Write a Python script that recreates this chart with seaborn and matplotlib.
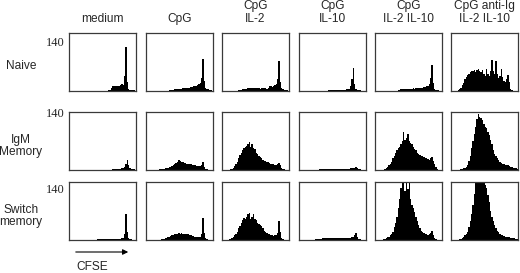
import numpy as np
import pandas as pd
import matplotlib
matplotlib.use("Agg")
import matplotlib.pyplot as plt
from matplotlib.patches import FancyArrowPatch
import seaborn as sns

# ---- data: CFSE histograms, % of panel height, 50 bins across the CFSE axis ----
conditions = ["medium", "CpG", "CpG\nIL-2", "CpG\nIL-10", "CpG\nIL-2 IL-10", "CpG anti-Ig\nIL-2 IL-10"]
populations = ["Naive", "IgM\nMemory", "Switch\nmemory"]
y_tick_label = "140"
n_bins = 50

naive_medium = [0, 0, 0, 0, 0, 0, 0, 0, 0, 0,
                0, 0, 0, 0, 0, 0, 0, 0, 0, 0,
                0, 0, 0, 0, 0, 0, 0, 0, 0, 1,
                2, 5, 8, 9, 8, 9, 8, 8, 10, 12,
                10, 25, 76, 15, 3, 2, 2, 1, 1, 0]
naive_cpg = [0, 0, 0, 0, 0, 0, 0, 0, 0, 0,
             0, 0, 0, 0, 0, 0, 0, 1, 1, 2,
             2, 3, 3, 3, 4, 4, 4, 5, 5, 5,
             6, 6, 6, 7, 7, 8, 8, 9, 10, 12,
             14, 22, 55, 18, 6, 4, 3, 2, 1, 0]
naive_cpg_il2 = [0, 0, 0, 0, 0, 0, 0, 0, 0, 0,
                 0, 0, 1, 1, 2, 3, 3, 4, 4, 5,
                 5, 5, 6, 5, 5, 6, 5, 5, 4, 5,
                 6, 5, 5, 4, 6, 8, 9, 7, 8, 10,
                 12, 20, 51, 15, 5, 3, 2, 1, 1, 0]
naive_cpg_il10 = [0, 0, 0, 0, 0, 0, 0, 0, 0, 0,
                  0, 0, 0, 0, 0, 0, 0, 0, 0, 0,
                  0, 0, 1, 1, 1, 1, 1, 1, 2, 2,
                  2, 2, 2, 2, 2, 3, 3, 4, 8, 20,
                  39, 12, 4, 2, 1, 1, 0, 0, 0, 0]
naive_cpg_il2_il10 = [0, 0, 0, 0, 0, 0, 0, 0, 0, 0,
                      0, 0, 0, 0, 0, 0, 0, 1, 2, 3,
                      3, 3, 4, 4, 4, 3, 4, 4, 5, 4,
                      5, 5, 5, 6, 5, 6, 7, 7, 8, 9,
                      12, 22, 45, 14, 4, 2, 1, 1, 0, 0]
naive_antiig = [0, 0, 0, 0, 0, 1, 3, 6, 10, 14,
                20, 24, 28, 30, 33, 35, 34, 36, 33, 36,
                38, 35, 33, 36, 30, 26, 38, 30, 25, 35,
                54, 35, 30, 52, 30, 22, 25, 38, 24, 18,
                15, 20, 28, 15, 3, 1, 0, 0, 0, 0]

igm_medium = [0, 0, 0, 0, 0, 0, 0, 0, 0, 0,
              0, 0, 0, 0, 0, 0, 0, 0, 0, 0,
              0, 0, 0, 0, 0, 0, 0, 0, 0, 0,
              0, 0, 1, 2, 2, 2, 2, 2, 2, 3,
              3, 5, 10, 18, 8, 3, 2, 1, 1, 0]
igm_cpg = [0, 0, 0, 0, 0, 0, 0, 0, 0, 0,
           1, 1, 2, 2, 3, 3, 4, 5, 6, 7,
           9, 10, 12, 14, 18, 15, 13, 14, 12, 12,
           11, 11, 10, 10, 9, 8, 8, 7, 7, 7,
           7, 8, 13, 5, 2, 1, 0, 0, 0, 0]
igm_cpg_il2 = [0, 0, 0, 0, 0, 0, 1, 2, 4, 7,
               10, 14, 20, 26, 30, 34, 38, 40, 42, 44,
               48, 40, 44, 38, 36, 30, 27, 24, 22, 20,
               18, 16, 15, 14, 13, 12, 11, 10, 10, 9,
               9, 10, 12, 8, 3, 1, 1, 0, 0, 0]
igm_cpg_il10 = [0, 0, 0, 0, 0, 0, 0, 0, 0, 0,
                0, 0, 0, 0, 0, 1, 1, 1, 1, 1,
                1, 1, 1, 1, 1, 1, 1, 1, 1, 1,
                1, 1, 2, 2, 2, 2, 2, 2, 3, 3,
                3, 4, 6, 4, 2, 1, 0, 0, 0, 0]
igm_cpg_il2_il10 = [0, 0, 0, 0, 0, 0, 0, 1, 3, 5,
                    8, 10, 14, 20, 25, 30, 35, 38, 40, 45,
                    50, 66, 52, 55, 62, 50, 46, 45, 40, 36,
                    34, 30, 28, 26, 25, 24, 22, 20, 20, 19,
                    18, 20, 22, 16, 10, 5, 2, 0, 0, 0]
igm_antiig = [0, 0, 0, 0, 0, 0, 0, 1, 2, 3,
              4, 6, 8, 15, 25, 38, 50, 62, 75, 88,
              97, 92, 90, 86, 80, 75, 72, 66, 60, 52,
              44, 35, 28, 24, 20, 17, 14, 12, 11, 10,
              9, 8, 8, 7, 6, 5, 4, 4, 3, 2]

switch_medium = [0, 0, 0, 0, 0, 0, 0, 0, 0, 0,
                 0, 0, 0, 0, 0, 0, 0, 0, 0, 0,
                 0, 1, 1, 1, 2, 2, 2, 1, 1, 1,
                 1, 1, 1, 1, 1, 1, 2, 2, 2, 3,
                 4, 10, 45, 14, 3, 1, 1, 0, 0, 0]
switch_cpg = [0, 0, 0, 0, 0, 0, 0, 0, 0, 0,
              0, 1, 1, 2, 3, 4, 5, 6, 7, 8,
              9, 10, 11, 11, 12, 11, 12, 11, 11, 10,
              11, 10, 9, 8, 7, 7, 6, 6, 5, 5,
              6, 10, 38, 12, 3, 1, 0, 0, 0, 0]
switch_cpg_il2 = [0, 0, 0, 0, 0, 1, 2, 3, 5, 8,
                  10, 14, 20, 24, 30, 34, 38, 36, 40, 44,
                  47, 36, 40, 45, 36, 34, 30, 28, 26, 24,
                  20, 16, 14, 12, 11, 10, 8, 8, 7, 8,
                  8, 12, 32, 14, 3, 1, 0, 0, 0, 0]
switch_cpg_il10 = [0, 0, 0, 0, 0, 0, 0, 0, 0, 0,
                   0, 0, 1, 1, 2, 2, 2, 3, 3, 3,
                   3, 3, 3, 3, 3, 3, 3, 3, 3, 3,
                   3, 3, 3, 3, 3, 4, 4, 4, 4, 5,
                   6, 8, 12, 6, 2, 1, 0, 0, 0, 0]
switch_cpg_il2_il10 = [0, 0, 0, 0, 0, 0, 1, 2, 3, 5,
                       6, 8, 10, 14, 22, 30, 40, 55, 70, 90,
                       120, 110, 85, 125, 88, 118, 70, 60, 55, 48,
                       40, 32, 25, 20, 16, 14, 12, 10, 10, 9,
                       10, 12, 16, 8, 3, 1, 0, 0, 0, 0]
switch_antiig = [0, 0, 0, 0, 0, 0, 1, 2, 3, 5,
                 8, 10, 14, 22, 32, 45, 60, 80, 100, 120,
                 130, 125, 130, 115, 118, 95, 90, 78, 65, 50,
                 40, 32, 25, 20, 16, 13, 11, 9, 8, 7,
                 6, 6, 5, 5, 4, 4, 3, 3, 2, 2]

grid = [
    [naive_medium, naive_cpg, naive_cpg_il2, naive_cpg_il10, naive_cpg_il2_il10, naive_antiig],
    [igm_medium, igm_cpg, igm_cpg_il2, igm_cpg_il10, igm_cpg_il2_il10, igm_antiig],
    [switch_medium, switch_cpg, switch_cpg_il2, switch_cpg_il10, switch_cpg_il2_il10, switch_antiig],
]

# long-form table
edges = np.linspace(0, 1, n_bins + 1)
centers = (edges[:-1] + edges[1:]) / 2
rows = []
for r, pop in enumerate(populations):
    for c, cond in enumerate(conditions):
        vals = grid[r][c]
        assert len(vals) == n_bins
        for x, v in zip(centers, vals):
            rows.append((pop, cond, x, v))
df = pd.DataFrame(rows, columns=["population", "condition", "cfse", "count"])

# ---- figure ----
sns.set_style("white")
plt.rcParams["font.family"] = ["Liberation Sans", "DejaVu Sans"]

W_PX, H_PX = 520, 273
fig = plt.figure(figsize=(W_PX / 100, H_PX / 100), dpi=100)

col_left = [69, 146, 222, 299, 375, 451]
row_top = [33, 112, 182]
pw, ph = 67, 58
label_y = [43, 114, 190]      # "140" position per row
rowlab_y = [66, 146, 216]
fs = 8.6

for r, pop in enumerate(populations):
    for c, cond in enumerate(conditions):
        ax = fig.add_axes([col_left[c] / W_PX, 1 - (row_top[r] + ph) / H_PX, pw / W_PX, ph / H_PX])
        sub = df[(df.population == pop) & (df.condition == cond)]
        sns.histplot(data=sub, x="cfse", weights="count", bins=n_bins, binrange=(0, 1),
                     element="step", fill=True, color="black", alpha=1, linewidth=0, ax=ax)
        ax.set_xlim(0, 1)
        ax.set_ylim(0, 100)
        ax.set_xticks([])
        ax.set_yticks([])
        ax.set_xlabel("")
        ax.set_ylabel("")
        for s in ax.spines.values():
            s.set_visible(True)
            s.set_color("#3a3a3a")
            s.set_linewidth(0.9)
        if r == 0:
            fig.text((col_left[c] + pw / 2) / W_PX, 1 - 25 / H_PX, cond, ha="center", va="bottom",
                     fontsize=fs, linespacing=1.1)
    fig.text(65 / W_PX, 1 - label_y[r] / H_PX, y_tick_label, ha="right", va="center",
             fontsize=9, family="Liberation Serif")
    fig.text(21 / W_PX, 1 - rowlab_y[r] / H_PX, pop, ha="center", va="center", fontsize=fs, linespacing=1.1)

arrow = FancyArrowPatch((73 / W_PX, 1 - 252 / H_PX), (131 / W_PX, 1 - 252 / H_PX),
                        transform=fig.transFigure, arrowstyle="-|>", mutation_scale=8,
                        color="black", lw=0.8)
fig.add_artist(arrow)
fig.text(76 / W_PX, 1 - 267 / H_PX, "CFSE", ha="left", va="center", fontsize=fs)

fig.savefig("out.png", dpi=100)
